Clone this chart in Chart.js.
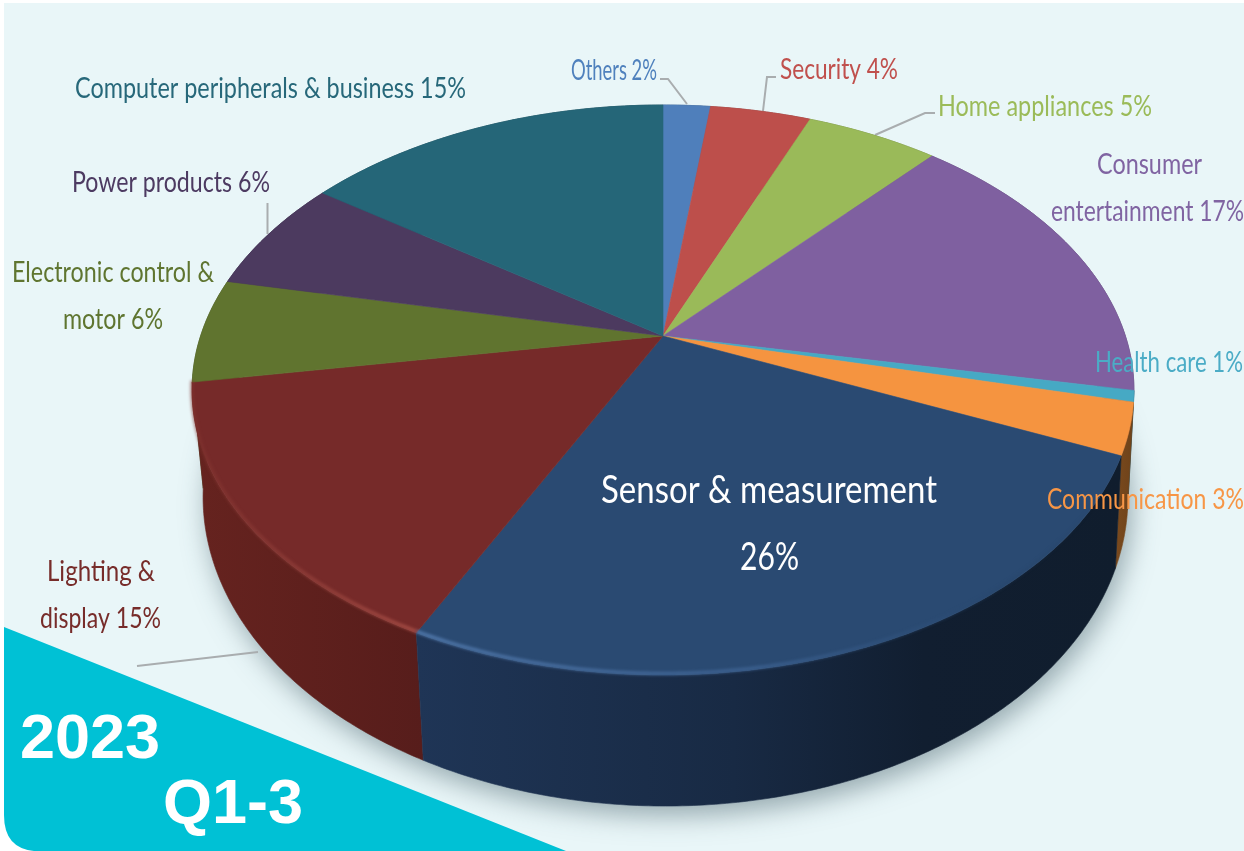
<!DOCTYPE html>
<html>
<head>
<meta charset="utf-8">
<style>html,body{margin:0;padding:0;background:#fff}canvas{display:block}</style>
<script src="https://cdn.jsdelivr.net/npm/chart.js@4"></script>
</head>
<body>
<canvas id="c" width="1244" height="851"></canvas>
<script>
// ---- data (clockwise from the top of the pie)
const categories = ["Others","Security","Home appliances","Consumer entertainment","Health care","Communication","Sensor & measurement","Lighting & display","Electronic control & motor","Power products","Computer peripherals & business"];
// slice sizes; the printed labels are these rounded
const shares = [1.95,4.15,5.46,16.5,0.64,2.9,25.7,15.1,5.9,6.49,15.21];
const faceColors = ["#4f7fbb","#bd4f4b","#9aba59","#7f60a0","#46a9c4","#f59440","#2a4a72","#762a29","#60742f","#4c3a5f","#256678"];
const wallStart = ["#34557f","#7e3431","#667b3a","#54406b","#2a6d80","#7a4a1e","#1f3556","#66231f","#3f4c1f","#322640","#184350"];
const wallEnd   = ["#34557f","#7e3431","#667b3a","#54406b","#2a6d80","#6e4219","#101d2d","#571d1b","#3f4c1f","#322640","#184350"];
const labelColors = ["#4f81bd","#c0504d","#9bbb59","#8064a2","#4bacc6","#f79646","#ffffff","#772c2a","#5f7530","#4d3b62","#27687a"];
const period = ["2023","Q1-3"];

// ---- label layout per slice: lines of the name, then [left, right, baseline] of each line
const labelLines = [
  ["Others"],["Security"],["Home appliances"],["Consumer","entertainment"],["Health care"],["Communication"],
  ["Sensor & measurement",""],["Lighting &","display"],["Electronic control &","motor"],["Power products"],["Computer peripherals & business"]
];
const labelBoxes = [
  [[571,657,80]],
  [[780,898,79]],
  [[938,1152,116]],
  [[1097,1202,174],[1051,1244,221]],
  [[1095,1243,372]],
  [[1047,1244,509]],
  [[601,937,503],[740,799,570]],
  [[47,155,581],[40,161,628]],
  [[12,214,282],[63,163,329]],
  [[72,270,192]],
  [[75,466,98]]
];
const leaders = [
  [[660,79],[668,79],[687,104]],
  [[776,77],[767,77],[763,111]],
  [[935,113],[925,113],[875,135]],
  [[267.5,203],[267.5,234]],
  [[137,666],[258,652]]
];

// ---- perspective of the pie
const P = {cx:663, apexY:336, persp:0.1895, A:274.8, D:462.4, topCy:390, topRy:285, topRx:471, botCx:665.5, botCy:497, botRy:309, botRx:462.5};
function topRim(a){
  const u=Math.cos(a), v=-Math.sin(a), w=1+P.persp*v;
  return [P.cx+P.D*u/w, P.apexY-P.A*v/w];
}
function botRim(a){
  const t=topRim(a);
  return [P.botCx+(t[0]-P.cx)*P.botRx/P.topRx, P.botCy+(t[1]-P.topCy)*P.botRy/P.topRy];
}
function rim(fn,a0,a1){
  const n=Math.max(2,Math.ceil(Math.abs(a1-a0)/0.01)), pts=[];
  for(let i=0;i<=n;i++) pts.push(fn(a0+(a1-a0)*i/n));
  return pts;
}
function trace(ctx,pts,first){
  pts.forEach((p,i)=>{ if(i===0&&first) ctx.moveTo(p[0],p[1]); else ctx.lineTo(p[0],p[1]); });
}

// the top face of each slice: the library's arc element, seen in perspective
const Arc = Chart.registry.getElement('arc');
Arc.prototype.draw = function(ctx){
  const {startAngle,endAngle} = this.getProps(['startAngle','endAngle'],true);
  ctx.save();
  ctx.beginPath();
  ctx.moveTo(P.cx,P.apexY);
  trace(ctx,rim(topRim,startAngle,endAngle),false);
  ctx.closePath();
  ctx.fillStyle=this.options.backgroundColor;
  ctx.fill();
  ctx.strokeStyle=this.options.backgroundColor;
  ctx.lineWidth=0.6;
  ctx.stroke();
  ctx.restore();
};

const stage = {
  id:'stage',
  beforeDraw(chart){
    const ctx=chart.ctx;
    ctx.save();
    // panel
    ctx.fillStyle='#e9f6f8';
    ctx.beginPath();
    ctx.moveTo(4,3);ctx.lineTo(1244,3);ctx.lineTo(1244,851);ctx.lineTo(34,851);
    ctx.quadraticCurveTo(4,848,4,815);ctx.closePath();ctx.fill();
    // soft shadow under the pie
    ctx.save();
    ctx.shadowColor='rgba(70,95,105,0.5)';ctx.shadowBlur=26;ctx.shadowOffsetY=10;ctx.shadowOffsetX=4;
    ctx.fillStyle='#c5d2d6';
    ctx.beginPath();ctx.ellipse(P.botCx,P.botCy,P.botRx,P.botRy,0,0,Math.PI*2);ctx.fill();
    ctx.restore();
    // corner band
    ctx.fillStyle='#00c1d5';
    ctx.beginPath();ctx.moveTo(4,627);ctx.lineTo(566,851);ctx.lineTo(34,851);
    ctx.quadraticCurveTo(4,848,4,815);ctx.closePath();ctx.fill();
    ctx.restore();
  },
  beforeDatasetsDraw(chart){
    const ctx=chart.ctx, arcs=chart.getDatasetMeta(0).data;
    // leader lines
    ctx.save();
    ctx.strokeStyle='#a9adaf';ctx.lineWidth=2;
    leaders.forEach(l=>{ctx.beginPath();trace(ctx,l,true);ctx.stroke();});
    ctx.restore();
    // side walls, back to front
    const order=arcs.map((a,i)=>i).sort((p,q)=>{
      const m=i=>Math.sin((arcs[i].startAngle+arcs[i].endAngle)/2);
      return m(p)-m(q);
    });
    order.forEach(i=>{
      const a=arcs[i];
      const t=rim(topRim,a.startAngle,a.endAngle), b=rim(botRim,a.startAngle,a.endAngle).reverse();
      const xs=t.concat(b).map(p=>p[0]);
      const x0=Math.min(...xs), x1=Math.max(...xs);
      const g=ctx.createLinearGradient(x0,0,x1,0);
      g.addColorStop(0,wallStart[i]);
      if(i===6){g.addColorStop(0.45,'#182a44');g.addColorStop(0.72,'#111e30');}
      g.addColorStop(1,wallEnd[i]);
      ctx.beginPath();trace(ctx,t,true);trace(ctx,b,false);ctx.closePath();
      ctx.fillStyle=g;ctx.fill();
      ctx.strokeStyle=g;ctx.lineWidth=0.6;ctx.stroke();
    });
  },
  afterDatasetsDraw(chart){
    const ctx=chart.ctx, arcs=chart.getDatasetMeta(0).data;
    // bevel highlight along the front rim of the two front slices
    const bevel=(a0,a1,grad)=>{
      ctx.save();
      ctx.filter='blur(1.5px)';
      ctx.strokeStyle=grad;ctx.lineWidth=3.5;
      ctx.beginPath();
      trace(ctx,rim(topRim,a0,a1).map(p=>[p[0],p[1]-1.5]),true);
      ctx.stroke();
      ctx.restore();
    };
    const s=arcs[6], l=arcs[7];
    const gb=ctx.createLinearGradient(420,0,1100,0);
    gb.addColorStop(0,'rgba(84,124,176,0.9)');gb.addColorStop(0.5,'rgba(66,104,154,0.7)');gb.addColorStop(0.8,'rgba(42,74,114,0.5)');gb.addColorStop(1,'rgba(30,55,85,0)');
    bevel(s.startAngle,s.endAngle,gb);
    const gr=ctx.createLinearGradient(195,0,420,0);
    gr.addColorStop(0,'rgba(130,52,48,0.6)');gr.addColorStop(1,'rgba(170,80,72,0.9)');
    bevel(l.startAngle,l.endAngle,gr);
  },
  afterDraw(chart){
    const ctx=chart.ctx;
    ctx.save();
    ctx.textAlign='left';ctx.textBaseline='alphabetic';
    labelLines.forEach((lines,i)=>{
      ctx.fillStyle=labelColors[i];
      ctx.font=(i===6?'39px':'29px')+' Lato, "Open Sans", sans-serif';
      lines.forEach((line,k)=>{
        const pct=Math.round(shares[i])+'%';
        const t=k===lines.length-1?(line?line+' ':'')+pct:line;
        const [x0,x1,y]=labelBoxes[i][k];
        ctx.fillText(t,x0,y,x1-x0);
      });
    });
    ctx.fillStyle='#fff';
    ctx.font='bold 63px "Liberation Sans", Arial, sans-serif';
    ctx.fillText(period[0],20,758);
    ctx.fillText(period[1],163,823);
    ctx.restore();
  }
};

new Chart(document.getElementById('c'),{
  type:'pie',
  data:{labels:categories,datasets:[{data:shares,backgroundColor:faceColors,borderWidth:0}]},
  options:{
    responsive:false,animation:false,
    plugins:{legend:{display:false},tooltip:{enabled:false}}
  },
  plugins:[stage]
});
</script>
</body>
</html>
